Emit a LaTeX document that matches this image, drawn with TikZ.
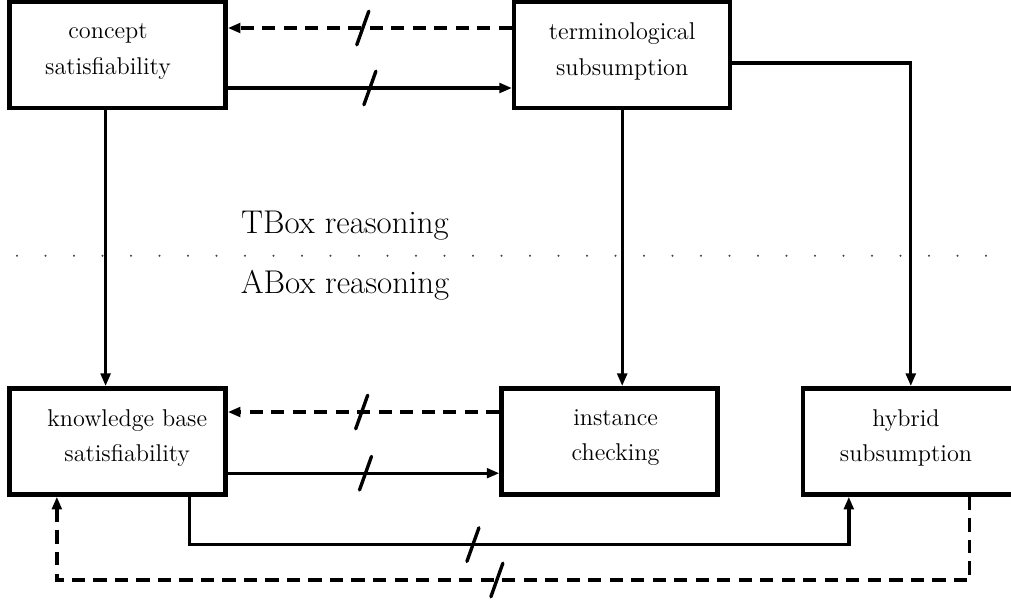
\documentclass[tikz,border=0pt]{standalone}
\usetikzlibrary{arrows.meta,calc}
\begin{document}
\begin{tikzpicture}[x=1cm,y=1cm,line join=miter,
  box/.style={draw,line width=2.1pt,minimum width=3.6cm,minimum height=1.77cm,inner sep=0pt},
  task/.style={align=center,yshift=0.06cm,font=\fontsize{11.5pt}{16.8pt}\selectfont},
  link/.style={line width=1.6pt,-{Triangle[length=0.21cm,width=0.16cm]}},
  nolink/.style={link,dash pattern=on 6.3pt off 3.9pt},
  cutmark/.style={line width=1.6pt,line cap=round},
  layer/.style={font=\fontsize{15.6pt}{18pt}\selectfont,anchor=base}]
  \useasboundingbox (0,0) rectangle (16.85,10.117);
  % reasoning tasks
  \node[box,label={[task,xshift=-0.16cm]center:concept\\satisfiability}] (concept) at (1.96,9.2) {};
  \node[box,label={[task]center:terminological\\subsumption}] (term) at (10.37,9.2) {};
  \node[box,label={[task,xshift=0.16cm]center:knowledge base\\satisfiability}] (kb) at (1.96,2.76) {};
  \node[box,label={[task,xshift=0.1cm]center:instance\\checking}] (inst) at (10.16,2.76) {};
  \node[box,label={[task,xshift=-0.08cm]center:hybrid\\subsumption}] (hybrid) at (15.18,2.76) {};
  % TBox / ABox border
  \foreach \i in {0,...,34}
    \fill[black!75] ({0.283+0.475*\i},5.855) circle (0.018);
  \node[layer] (tbox) at (5.75,6.233) {TBox reasoning};
  \node[layer] (abox) at (5.75,5.233) {ABox reasoning};
  % reductions
  \draw[nolink] ([yshift=0.45cm]term.west) -- coordinate[pos=0.525] (cut1) ([yshift=0.45cm]concept.east);
  \draw[link] ([yshift=-0.55cm]concept.east) -- coordinate[pos=0.5] (cut2) ([yshift=-0.55cm]term.west);
  \draw[link] ([yshift=-0.133cm]term.east) -| (hybrid.north);
  \draw[link] ([xshift=-0.2cm]concept.south) -- ([xshift=-0.2cm]kb.north);
  \draw[link] (term.south) -- (term.south |- inst.north);
  \draw[nolink] ([yshift=0.49cm]inst.west) -- coordinate[pos=0.507] (cut3) ([yshift=0.49cm]kb.east);
  \draw[link] ([yshift=-0.53cm]kb.east) -- coordinate[pos=0.507] (cut4) ([yshift=-0.53cm]inst.west);
  \coordinate (low1) at (0,1.04);
  \coordinate (low2) at (0,0.45);
  \coordinate (kbout) at ([xshift=1.196cm]kb.south);
  \coordinate (hyout) at ([xshift=0.983cm]hybrid.south);
  \draw[link] (kbout) -- (kbout |- low1) -| coordinate[pos=0.215] (cut5) ([xshift=-1.033cm]hybrid.south);
  \draw[nolink] (hyout) -- (hyout |- low2) -| coordinate[pos=0.259] (cut6) ([xshift=-1.0125cm]kb.south);
  % slashes
  \foreach \c in {cut1,cut2,cut3,cut4,cut5,cut6}
    \draw[cutmark] (\c) ++(-0.1,-0.28) -- ++(0.2,0.56);
\end{tikzpicture}
\end{document}
